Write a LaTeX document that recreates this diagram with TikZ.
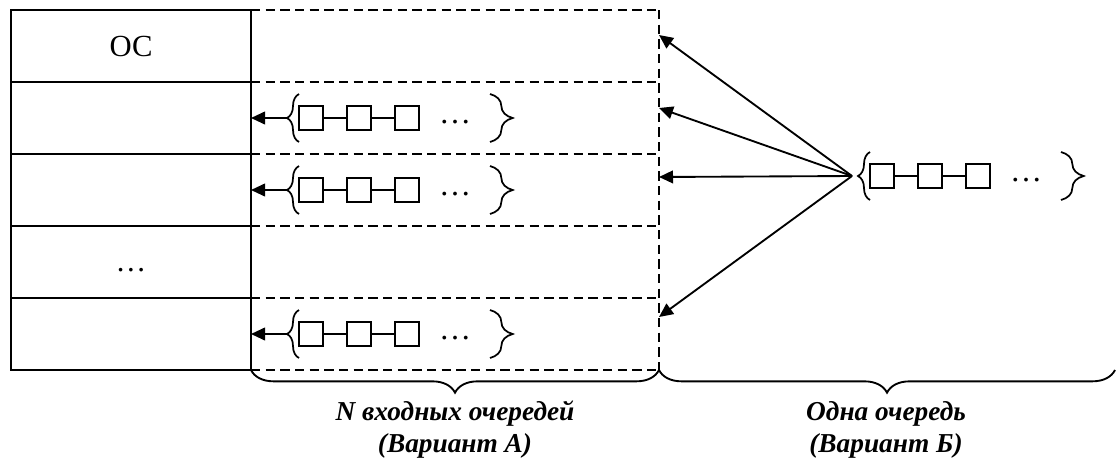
\documentclass[tikz,border=0pt]{standalone}
\usepackage{fontspec}
\setmainfont{Liberation Serif}
\usetikzlibrary{arrows.meta, positioning, calc, decorations.pathreplacing}

\newcommand{\fifo}[2]{%
  \coordinate (#1) at #2;
  \node[cell, anchor=west] (#1a) at ($(#1)+(12,0)$) {};
  \node[cell, right=18pt of #1a] (#1b) {};
  \node[cell, right=18pt of #1b] (#1c) {};
  \node[qdots] (#1d) at ($(#1)+(168,4)$) {…};
  \draw[link] (#1a) -- (#1b);
  \draw[link] (#1b) -- (#1c);
  \draw[lbrace] ($(#1)+(12,24)$) -- ($(#1)+(12,-24)$);
  \draw[rbrace] ($(#1)+(203,-24)$) -- ($(#1)+(203,24)$);
}

\begin{document}
\begin{tikzpicture}[
  x=0.75pt, y=-0.75pt,
  row/.style={draw, line width=1.5pt, minimum width=180pt, minimum height=54pt,
              outer sep=0pt, inner sep=0pt, font=\fontsize{23}{26}\selectfont},
  lane/.style={minimum width=306pt, minimum height=54pt, outer sep=0pt, inner sep=0pt},
  dashline/.style={line width=1.4pt, dash pattern=on 7pt off 4pt},
  cell/.style={draw, line width=1.4pt, minimum size=18pt, inner sep=0pt, outer sep=0pt},
  link/.style={line width=1.4pt},
  qdots/.style={inner sep=0pt, font=\fontsize{24}{26}\selectfont},
  lbrace/.style={line width=1.3pt, decorate, decoration={brace, amplitude=9pt}},
  rbrace/.style={line width=1.3pt, decorate, decoration={brace, amplitude=17pt}},
  bigbrace/.style={line width=1.4pt, decorate, decoration={brace, amplitude=17pt}},
  arr/.style={-{Triangle[length=10.5pt, width=9.5pt]}, line width=1.4pt},
  caption/.style={align=center, font=\fontsize{20.5}{24}\selectfont\bfseries\itshape},
]
\useasboundingbox (0,0) rectangle (1116,461);

\node[row] (r1) at (131,46) {ОС};
\node[row, below=0pt of r1] (r2) {};
\node[row, below=0pt of r2] (r3) {};
\node[row, below=0pt of r3] (r4) {\raisebox{-14pt}{…}};
\node[row, below=0pt of r4] (r5) {};

\foreach \i in {1,...,5}
  \node[lane, right=0pt of r\i] (l\i) {};
\draw[dashline] (l1.north west) -- (l1.north east);
\foreach \i in {1,...,5}
  \draw[dashline] (l\i.south west) -- (l\i.south east);
\draw[dashline] (l1.north east) -- (l5.south east);

\fifo{qa}{($(r2.east)+(36,0)$)}
\fifo{qb}{($(r3.east)+(36,0)$)}
\fifo{qc}{($(r5.east)+(36,0)$)}
\draw[arr] (qa) -- (r2.east);
\draw[arr] (qb) -- (r3.east);
\draw[arr] (qc) -- (r5.east);

\fifo{qr}{(858,176)}
\coordinate (fan) at ($(qr)+(-6,0)$);
\foreach \i/\d in {1/-11, 2/-10, 3/-13, 5/-17}
  \draw[arr] (fan) -- ($(l\i.east)+(0,\d)$);

\coordinate (edge) at (1115,370);
\draw[bigbrace] (l5.south east) -- (l5.south west);
\draw[bigbrace] (edge) -- (l5.south east);

\node[caption] (capa) at (455,430) {N входных очередей\\(Вариант А)};
\node[caption] (capb) at (886,430) {Одна очередь\\(Вариант Б)};
\end{tikzpicture}
\end{document}
